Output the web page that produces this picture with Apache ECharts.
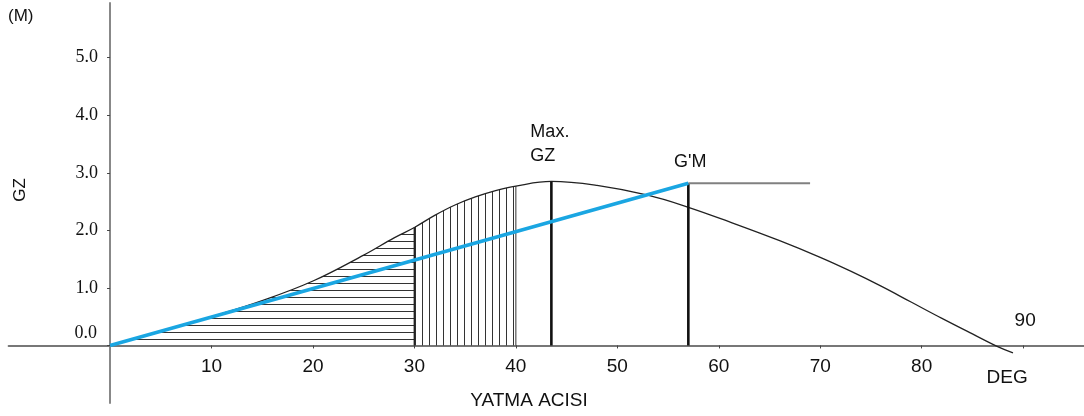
<!DOCTYPE html>
<html>
<head>
<meta charset="utf-8">
<script src="https://cdn.jsdelivr.net/npm/echarts@6/dist/echarts.min.js"></script>
<style>
html,body{margin:0;padding:0;background:#fff}
#chart{width:1084px;height:416px}
</style>
</head>
<body>
<div id="chart"></div>
<script>
// GZ curve: [heel angle (deg), GZ (m)]
const gzCurve = [
  [0, 0], [5, 0.24], [10, 0.5], [15, 0.78], [20, 1.12], [25, 1.57], [28, 1.87],
  [30, 2.05], [32, 2.26], [34, 2.44], [36, 2.58], [38, 2.69], [40, 2.77], [43.5, 2.85],
  [48, 2.78], [53, 2.61], [57, 2.4], [61, 2.15], [66, 1.82], [70, 1.53],
  [73, 1.29], [76, 1.03], [79, 0.75], [82, 0.47], [85, 0.2], [87.6, -0.03], [89, -0.13]
];
const xTicks = [10, 20, 30, 40, 50, 60, 70, 80, 90];
const xTickLabels = ['10', '20', '30', '40', '50', '60', '70', '80', ''];
const yTicks = [0, 1, 2, 3, 4, 5];
const yTickLabels = ['', '1.0', '2.0', '3.0', '4.0', '5.0'];

const gmAngle = 57;       // G'M drawn at ~1 rad
const gmValue = 2.82;
const gmLineEnd = 69;
const maxGzAngle = 43.5;
const maxGzValue = 2.85;
const hatchHorizTo = 30;
const hatchVertTo = 40;

const gzAt = a => gzCurve.find(p => p[0] === a)[1];

// axes cross at 0,0 inside the plot; shift them there with offsets
const W = 1084, H = 416;
const GRID = { left: 8.6, right: 0, top: 3, bottom: 13 };
const X_MIN = -10, X_MAX = 96, Y_MIN = -1, Y_MAX = 5.95;
const xZeroOff = (0 - X_MIN) * (W - GRID.left - GRID.right) / (X_MAX - X_MIN);
const yZeroOff = (0 - Y_MIN) * (H - GRID.top - GRID.bottom) / (Y_MAX - Y_MIN);

function hatch(w, h, vertical) {
  const c = document.createElement('canvas');
  c.width = w; c.height = h;
  const ctx = c.getContext('2d');
  ctx.fillStyle = '#333';
  if (vertical) ctx.fillRect(2, 0, 1, h);
  else ctx.fillRect(0, 3, w, 1);
  return c;
}

const chart = echarts.init(document.getElementById('chart'));
const SANS = 'Liberation Sans, Arial, sans-serif';
const SERIF = 'Liberation Serif, Times New Roman, serif';
const SMOOTH = 0.4;

const plainLine = (data, color, width, z) => ({
  type: 'line', data: data, symbol: 'none', silent: true, z: z,
  lineStyle: { color: color, width: width }
});

const noteLabel = (text, offset, extra) => Object.assign({
  show: true, position: 'inside', formatter: text, offset: offset,
  fontFamily: SANS, fontSize: 18, color: '#111', lineHeight: 24,
  textBorderWidth: 0, opacity: 1
}, extra || {});

chart.setOption({
  animation: false,
  grid: Object.assign({ outerBoundsMode: 'none', containLabel: false }, GRID),
  xAxis: {
    type: 'value', min: X_MIN, max: X_MAX, interval: 10,
    position: 'bottom', offset: -yZeroOff,
    axisLine: { onZero: false, lineStyle: { color: '#777', width: 2 } },
    axisTick: { show: true, length: 3, customValues: xTicks, lineStyle: { color: '#444' } },
    axisLabel: {
      customValues: xTicks, margin: 12,
      formatter: v => xTickLabels[xTicks.indexOf(v)],
      fontFamily: SANS, fontSize: 19, color: '#111'
    },
    splitLine: { show: false }
  },
  yAxis: {
    type: 'value', min: Y_MIN, max: Y_MAX, interval: 1,
    position: 'left', offset: -xZeroOff,
    axisLine: { onZero: false, lineStyle: { color: '#888', width: 2 } },
    axisTick: { show: true, length: 3, customValues: yTicks, lineStyle: { color: '#444' } },
    axisLabel: {
      customValues: yTicks, margin: 12,
      formatter: v => yTickLabels[yTicks.indexOf(v)],
      fontFamily: SERIF, fontSize: 18, color: '#111'
    },
    splitLine: { show: false }
  },
  graphic: [
    { type: 'text', left: 8, top: 8, style: { text: '(M)', font: '17px ' + SANS, fill: '#111' } },
    { type: 'text', x: 20, y: 190, rotation: Math.PI / 2,
      style: { text: 'GZ', font: '17px ' + SANS, fill: '#111', align: 'center', verticalAlign: 'middle' } },
    { type: 'text', x: 529, y: 401,
      style: { text: 'YATMA ACISI', font: '19px ' + SANS, fill: '#111', align: 'center', verticalAlign: 'middle' } }
  ],
  series: [
    {
      type: 'line', smooth: SMOOTH, symbol: 'none', silent: true, z: 1,
      data: gzCurve.filter(p => p[0] <= hatchHorizTo),
      lineStyle: { width: 0 },
      areaStyle: { color: { image: hatch(4, 7, false), repeat: 'repeat' }, opacity: 1 }
    },
    {
      type: 'line', smooth: SMOOTH, symbol: 'none', silent: true, z: 1,
      data: gzCurve.filter(p => p[0] >= hatchHorizTo && p[0] <= hatchVertTo),
      lineStyle: { width: 0 },
      areaStyle: { color: { image: hatch(7, 4, true), repeat: 'repeat' }, opacity: 1 }
    },
    plainLine([[hatchHorizTo, 0], [hatchHorizTo, gzAt(hatchHorizTo)]], '#222', 1.6, 2),
    plainLine([[hatchVertTo, 0], [hatchVertTo, gzAt(hatchVertTo)]], '#333', 1, 2),
    Object.assign(plainLine(gzCurve, '#222', 1.3, 3), { smooth: SMOOTH }),
    plainLine([[maxGzAngle, 0], [maxGzAngle, maxGzValue]], '#111', 2.6, 4),
    plainLine([[gmAngle, 0], [gmAngle, gmValue]], '#111', 2.6, 4),
    plainLine([[gmAngle, gmValue], [gmLineEnd, gmValue]], '#808080', 2, 4),
    plainLine([[0, 0], [gmAngle, gmValue]], '#1aa6e2', 3.6, 5),
    {
      type: 'scatter', symbolSize: 1, silent: true, z: 6,
      itemStyle: { color: 'rgba(0,0,0,0)' },
      data: [
        { value: [maxGzAngle, maxGzValue], label: noteLabel('Max.\nGZ', [-21, -37], { align: 'left' }) },
        { value: [gmAngle, gmValue], label: noteLabel("G'M", [2, -21]) },
        { value: [90, 0], label: noteLabel('90', [2, -25], { fontSize: 19 }) },
        { value: [90, 0], label: noteLabel('DEG', [-16, 32], { fontSize: 19 }) },
        { value: [0, 0], label: noteLabel('0.0', [-13, -12], { align: 'right', fontFamily: SERIF }) }
      ]
    }
  ]
});
</script>
</body>
</html>
